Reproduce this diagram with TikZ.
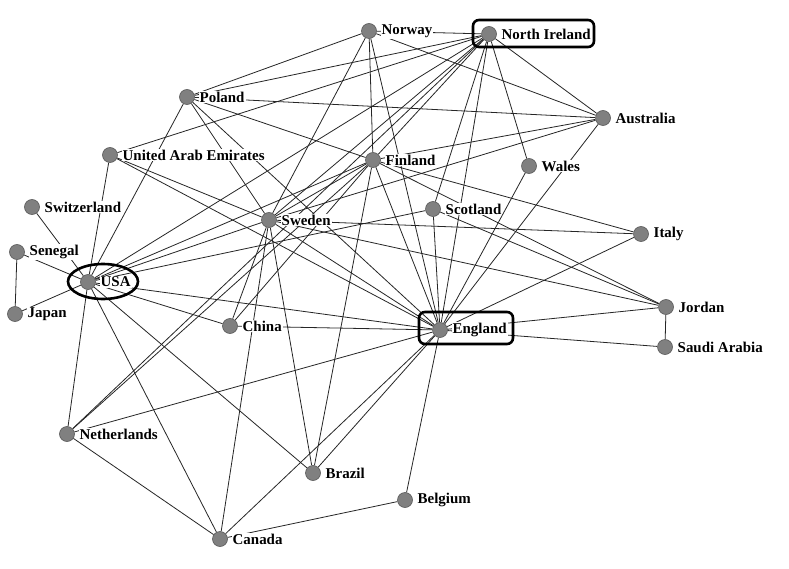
\documentclass[tikz,border=0pt]{standalone}
\usepackage{fontspec}
\setmainfont{Liberation Serif}
\usetikzlibrary{shapes.geometric}
\pgfdeclarelayer{bg}
\pgfsetlayers{bg,main}
\newcommand\country[4]{%
  \node[dot] (#1) at (#2,#3) {};
  \node[lab] (#1-l) at (#2+11.5,#3) {#4};}
\begin{document}
\begin{tikzpicture}[x=1bp,y=-1bp,
  dot/.style={circle, fill=black!50, draw=black!65, line width=0.6bp, minimum size=15bp, inner sep=0pt},
  lab/.style={anchor=west, fill=white, inner sep=1bp, font=\fontsize{15}{17}\selectfont\bfseries},
  edge/.style={draw=black!85, line width=0.8bp},
  hlbox/.style={draw=black, line width=2.6bp, rounded corners=6bp, rectangle, inner sep=0pt},
  hlell/.style={draw=black, line width=2.6bp, ellipse, inner sep=0pt}]
\useasboundingbox (0,0) rectangle (789,569);

\country{no}{369}{31}{Norway}
\country{ni}{489}{34}{North Ireland}
\country{po}{187}{97}{Poland}
\country{au}{603}{118}{Australia}
\country{uae}{110}{155}{United Arab Emirates}
\country{fi}{373}{160}{Finland}
\country{wa}{529}{166}{Wales}
\country{swz}{32}{207}{Switzerland}
\country{se}{269}{220}{Sweden}
\country{sc}{433}{209}{Scotland}
\country{it}{641}{234}{Italy}
\country{sn}{17}{252}{Senegal}
\country{usa}{88}{282}{USA}
\country{jp}{15}{314}{Japan}
\country{ch}{230}{326}{China}
\country{en}{440}{330}{England}
\country{jo}{666}{307}{Jordan}
\country{sa}{665}{347}{Saudi Arabia}
\country{ne}{67}{434}{Netherlands}
\country{br}{313}{473}{Brazil}
\country{be}{405}{500}{Belgium}
\country{ca}{220}{539}{Canada}

\begin{pgfonlayer}{bg}
\fill[white] (0,0) rectangle (789,569);
\foreach \a/\b in {swz/usa, sn/usa, sn/jp, jp/usa, usa/uae, usa/po, usa/se, usa/ni,
  usa/fi, usa/sc, usa/en, usa/ch, usa/br, usa/ca, usa/ne, ne/ca, ne/en, ne/fi, ne/ni,
  no/po, no/ni, no/fi, no/en, no/au, no/se, ni/po, ni/uae, ni/se, ni/fi, ni/sc, ni/en,
  ni/wa, ni/au, po/au, po/fi, po/se, po/en, uae/se, uae/en, fi/au, se/au, au/en, wa/en,
  fi/it, se/it, it/en, sc/en, sc/jo, fi/jo, se/jo, jo/en, jo/sa, sa/en, fi/se, fi/ch,
  fi/br, fi/en, se/ch, se/ca, se/br, se/en, ch/en, br/en, ca/en, be/en, be/ca}
  \draw[edge] (\a) -- (\b);
\end{pgfonlayer}

\node[hlbox, minimum width=121bp, minimum height=27bp] (ni-box) at (533.5,33.5) {};
\node[hlbox, minimum width=94bp, minimum height=32bp] (en-box) at (466,328) {};
\node[hlell, minimum width=70bp, minimum height=35bp] (usa-box) at (103,281.5) {};
\end{tikzpicture}
\end{document}
